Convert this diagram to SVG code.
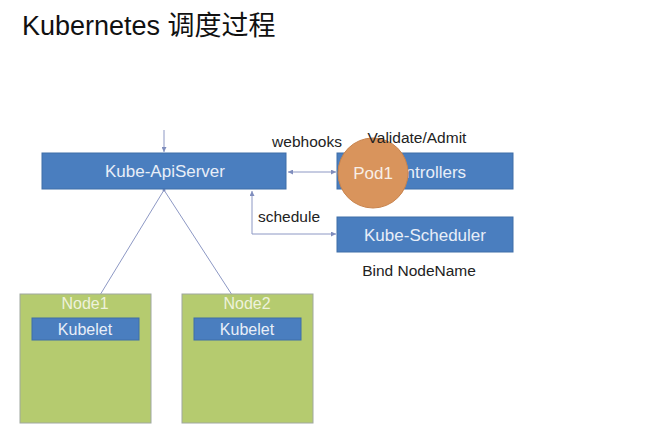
<svg xmlns="http://www.w3.org/2000/svg" width="661" height="432" viewBox="0 0 661 432">
<defs>
<style>
.box{fill:#4a7ebf;stroke:#3f6ea8;stroke-width:1}
.node{fill:#b5cb6f;stroke:#a0a8a0;stroke-width:1}
.bt{font-family:"Liberation Sans",Arial,sans-serif;font-size:16px;fill:#e8eef8;text-anchor:middle}
.lbl{font-family:"Liberation Sans",Arial,sans-serif;font-size:15.5px;fill:#222;text-anchor:middle}
.con{stroke:#8d98c4;stroke-width:1;fill:none}
</style>
<marker id="ah" viewBox="0 0 6 6" refX="6" refY="3" markerWidth="5" markerHeight="5" orient="auto-start-reverse">
<path d="M0,0 L6,3 L0,6 z" fill="#7f8dbd"/>
</marker>
</defs>
<rect width="661" height="432" fill="#ffffff"/>
<text x="22" y="35" font-family="'Liberation Sans','Noto Sans CJK SC',sans-serif" font-size="27" fill="#111">Kubernetes 调度过程</text>

<g id="connectors">
<line class="con" x1="164" y1="130" x2="164" y2="152" marker-end="url(#ah)"/>
<line class="con" x1="288" y1="172" x2="336" y2="172" marker-start="url(#ah)" marker-end="url(#ah)"/>
<polyline class="con" points="252,191 252,234 336,234" marker-start="url(#ah)" marker-end="url(#ah)"/>
<line class="con" x1="164" y1="190" x2="86" y2="318"/>
<line class="con" x1="164" y1="190" x2="247" y2="318"/>
<circle cx="164" cy="190" r="1.5" fill="#7f8dbd"/>
</g>

<g id="apiserver">
<rect class="box" x="42" y="153" width="244" height="36"/>
<text class="bt" x="165" y="177" style="font-size:17px">Kube-ApiServer</text>
</g>

<g id="controllers">
<rect class="box" x="337" y="153" width="176" height="36"/>
<text class="bt" x="425" y="178" style="font-size:17px">Controllers</text>
</g>

<g id="scheduler">
<rect class="box" x="337" y="217" width="176" height="35"/>
<text class="bt" x="425" y="241" style="font-size:17px">Kube-Scheduler</text>
</g>

<g id="pod1">
<circle cx="373" cy="173" r="35" fill="#d9945c" stroke="#c8834d" stroke-width="1"/>
<text x="373" y="179" font-family="'Liberation Sans',Arial,sans-serif" font-size="17" fill="#f8eee6" text-anchor="middle">Pod1</text>
</g>

<g id="labels">
<text class="lbl" x="307" y="147">webhooks</text>
<text class="lbl" x="417" y="143">Validate/Admit</text>
<text class="lbl" x="289" y="222">schedule</text>
<text class="lbl" x="419" y="276">Bind NodeName</text>
</g>

<g id="node1">
<rect class="node" x="20" y="294" width="131" height="129"/>
<text class="bt" x="85" y="309" style="fill:#eef2dc">Node1</text>
<rect class="box" x="32" y="318" width="107" height="22"/>
<text class="bt" x="85" y="335">Kubelet</text>
</g>

<g id="node2">
<rect class="node" x="182" y="294" width="131" height="129"/>
<text class="bt" x="247" y="309" style="fill:#eef2dc">Node2</text>
<rect class="box" x="194" y="318" width="107" height="22"/>
<text class="bt" x="247" y="335">Kubelet</text>
</g>
</svg>
